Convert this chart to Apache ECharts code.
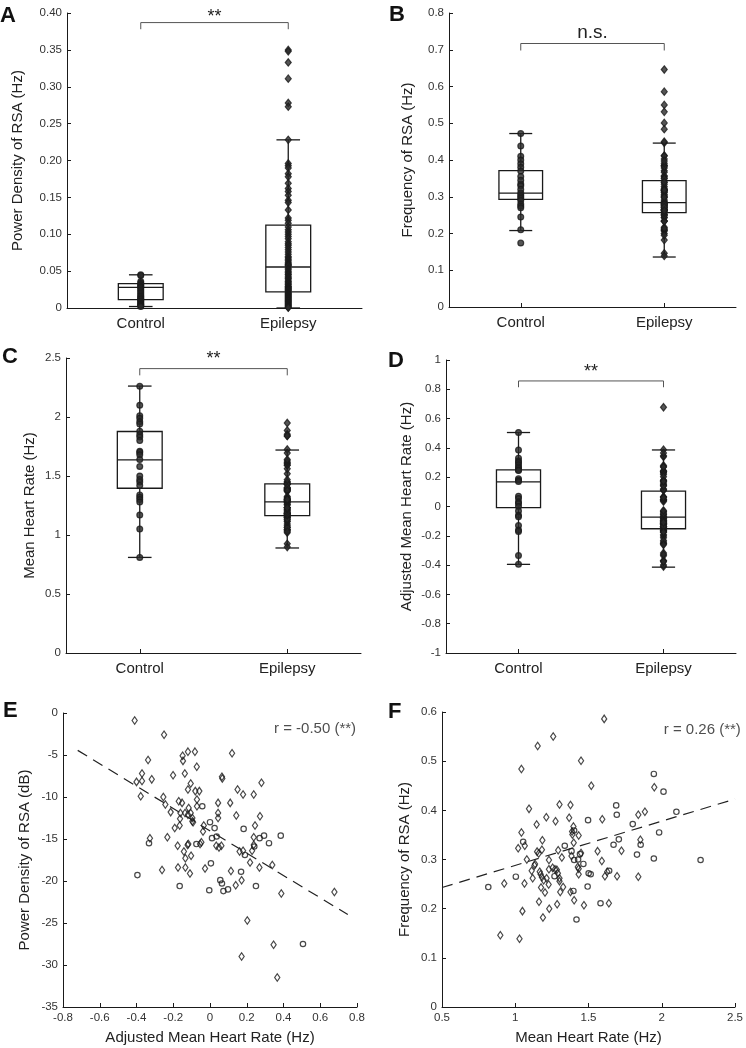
<!DOCTYPE html>
<html><head><meta charset="utf-8">
<script src="https://cdn.jsdelivr.net/npm/echarts@6/dist/echarts.min.js"></script>
<style>html,body{margin:0;padding:0;background:#fff}#c{width:746px;height:1048px}</style>
</head><body><div id="c"></div>
<script>
const categories = ['Control', 'Epilepsy'];

// ---- Panel A: power density of RSA (Hz)
const aControl = [0.045,0.044,0.036,0.034,0.032,0.031,0.029,0.028,0.026,0.024,0.022,0.020,0.018,0.016,0.015,0.013,0.012,0.011,0.009,0.008,0.006,0.005,0.004,0.003,0.002];
const aEpilepsy = [0.350,0.348,0.333,0.311,0.278,0.273,0.228,0.196,0.193,0.190,0.182,0.178,0.169,0.162,0.158,0.153,0.146,0.143,0.133,0.122,0.119,0.115,
  0.110,0.106,0.103,0.100,0.097,0.094,0.090,0.087,0.085,0.082,0.079,0.076,0.073,0.070,0.068,0.066,0.064,0.062,0.060,0.059,0.058,0.057,
  0.054,0.052,0.050,0.048,0.046,0.045,0.043,0.041,0.040,0.038,0.036,0.035,0.033,0.032,0.030,0.029,0.028,0.027,0.026,0.025,0.024,0.023,
  0.021,0.020,0.019,0.018,0.017,0.016,0.015,0.014,0.013,0.012,0.011,0.010,0.009,0.008,0.007,0.006,0.005,0.004,0.003,0.002,0.001,0.0005];
// box stats: [lower whisker, Q1, median, Q3, upper whisker]
const aBox = [[0.002,0.0113,0.028,0.033,0.045],[0.0,0.022,0.0556,0.1125,0.228]];
const aSig = [0.387, 0.378, 0.395]; // bracket level, tick end, label level
const aSigText = '**';

// ---- Panel B: frequency of RSA (Hz)
const bControl = [0.472,0.438,0.41,0.40,0.39,0.38,0.37,0.355,0.345,0.335,0.33,0.32,0.31,0.305,0.30,0.295,0.29,0.28,0.275,0.27,0.245,0.21,0.174];
const bEpilepsyExtra = [0.646];
const bBox = [[0.208,0.293,0.310,0.371,0.472],[0.136,0.257,0.284,0.344,0.446]];
const bSig = [0.717, 0.698, 0.745];
const bSigText = 'n.s.';

// ---- Panel C: mean heart rate (Hz)
const cControl = [2.26,2.10,2.01,1.99,1.96,1.94,1.88,1.85,1.83,1.80,1.71,1.70,1.68,1.64,1.58,1.50,1.47,1.45,1.42,1.34,1.32,1.30,1.28,1.17,1.05,0.81];
const cBox = [[0.81,1.396,1.637,1.877,2.262],[0.89,1.164,1.28,1.433,1.72]];
const cSig = [2.41, 2.353, 2.49];
const cSigText = '**';

// ---- Panel D: adjusted mean heart rate (Hz)
const dControl = [0.505,0.385,0.33,0.31,0.30,0.285,0.27,0.26,0.25,0.245,0.19,0.18,0.17,0.07,0.055,0.03,0.02,0.0,-0.03,-0.06,-0.07,-0.13,-0.16,-0.17,-0.335,-0.395];
const dBox = [[-0.395,-0.007,0.168,0.25,0.505],[-0.414,-0.152,-0.073,0.105,0.386]];
const dSig = [0.857, 0.814, 0.915];
const dSigText = '**';

// ---- Panel E: adjusted mean HR (x) vs power density dB (y)
const eControl = [[-0.042,-11.1],[0.183,-13.8],[0.0,-13.0],[0.025,-13.7],[-0.332,-15.5],[0.011,-14.9],[0.036,-14.7],[-0.074,-15.6],[0.19,-16.9],[0.241,-15.9],[0.27,-14.9],[0.294,-14.6],[0.321,-15.5],[0.385,-14.6],[0.005,-17.9],[0.169,-18.9],[-0.395,-19.3],[-0.165,-20.6],[-0.004,-21.1],[0.056,-19.9],[0.065,-20.3],[0.073,-21.2],[0.098,-21.0],[0.25,-20.6],[0.506,-27.5]];
const eEpilepsy = [[-0.41,-0.9],[-0.25,-2.6],[-0.337,-5.6],[-0.149,-5.1],[-0.12,-4.6],[-0.082,-4.6],[-0.147,-5.7],[0.12,-4.8],
  [-0.37,-7.2],[-0.40,-8.2],[-0.37,-8.1],[-0.317,-7.9],[-0.377,-9.9],[-0.201,-7.4],[-0.137,-7.2],[-0.072,-6.4],
  [-0.105,-8.4],[0.065,-7.6],[0.067,-7.8],[-0.12,-9.1],[-0.08,-9.3],[-0.058,-9.3],[0.15,-9.1],[0.18,-9.7],
  [0.238,-9.7],[0.28,-8.3],[-0.254,-10.0],[-0.17,-10.5],[-0.071,-10.3],[-0.243,-10.9],[-0.152,-10.7],[-0.116,-11.3],
  [-0.071,-11.1],[0.044,-10.7],[0.11,-10.7],[-0.214,-11.8],[-0.161,-11.9],[-0.136,-11.9],[-0.12,-12.1],[-0.105,-11.9],
  [-0.096,-12.5],[-0.096,-12.9],[-0.092,-13.0],[-0.163,-12.6],[0.044,-11.9],[0.044,-12.5],[0.143,-12.2],[0.272,-12.3],
  [0.245,-13.4],[-0.034,-13.4],[-0.038,-14.1],[-0.192,-13.7],[-0.165,-13.4],[-0.232,-14.8],[-0.327,-14.9],
  [-0.176,-15.8],[-0.122,-15.7],[-0.118,-15.6],[-0.142,-16.5],[-0.054,-15.6],[-0.047,-15.4],[0.034,-15.8],[0.049,-16.0],
  [0.062,-15.8],[0.161,-16.5],[0.18,-16.4],[0.229,-16.4],[0.238,-15.7],[0.238,-14.8],[-0.103,-17.0],[-0.134,-17.3],
  [0.218,-17.8],[0.269,-18.4],[0.339,-18.1],[-0.027,-18.5],[-0.134,-18.4],[-0.174,-18.4],[-0.261,-18.7],[-0.109,-19.1],
  [0.114,-18.8],[0.14,-20.5],[0.172,-19.9],[0.388,-21.5],[0.677,-21.3],[0.203,-24.7],[0.172,-29.0],[0.346,-27.6],[0.366,-31.5]];
const eFit = [[-0.72,-4.45],[0.75,-24.0]];
const eText = 'r = -0.50 (**)';
const eTextAt = [0.795, -1.9];

// ---- Panel F: mean HR (x) vs frequency of RSA (y)
const fControl = [[1.946,0.474],[2.012,0.438],[1.497,0.380],[1.689,0.410],[1.693,0.391],[1.802,0.372],[2.100,0.397],[1.982,0.355],[2.265,0.299],[1.054,0.336],[1.338,0.328],[1.402,0.359],[1.384,0.317],[1.402,0.299],[1.429,0.300],[1.442,0.311],[1.465,0.291],[1.501,0.272],[1.515,0.270],[1.494,0.245],[1.641,0.277],[1.671,0.330],[1.707,0.341],[1.831,0.310],[1.856,0.330],[1.946,0.302],[1.582,0.211],[1.418,0.178],[1.397,0.236],[1.004,0.265],[0.816,0.244],[1.268,0.266]];
const fEpilepsy = [[1.607,0.586],[1.259,0.550],[1.153,0.531],[1.042,0.484],[1.449,0.501],[1.949,0.447],[1.519,0.450],[1.094,0.403],[1.302,0.412],[1.377,0.411],[1.212,0.386],[1.275,0.378],[1.146,0.371],[1.368,0.385],[1.397,0.367],[1.594,0.382],[1.840,0.391],[1.885,0.397],[1.042,0.355],[1.020,0.323],[1.065,0.328],[1.079,0.300],[1.149,0.316],[1.160,0.312],[1.182,0.320],[1.185,0.339],[1.293,0.319],[1.318,0.304],[1.388,0.357],[1.390,0.351],[1.399,0.334],[1.384,0.307],[1.433,0.349],[1.449,0.313],[1.427,0.285],[1.433,0.281],[1.433,0.270],[1.562,0.317],[1.591,0.297],[1.612,0.266],[1.628,0.275],[1.725,0.318],[1.695,0.266],[1.854,0.340],[1.840,0.265],[1.639,0.211],[1.469,0.207],[1.402,0.217],[1.377,0.234],[1.327,0.244],[1.307,0.234],[1.286,0.209],[1.232,0.200],[1.189,0.182],[1.162,0.214],[1.049,0.195],[1.063,0.251],[0.925,0.251],[0.898,0.146],[1.029,0.139],[1.112,0.277],[1.119,0.262],[1.131,0.288],[1.135,0.291],[1.167,0.275],[1.173,0.270],[1.182,0.264],[1.176,0.243],[1.203,0.233],[1.194,0.258],[1.214,0.262],[1.228,0.249],[1.230,0.280],[1.255,0.283],[1.271,0.280],[1.284,0.279],[1.291,0.272],[1.302,0.256],[1.302,0.262],[1.230,0.299]];
const fFit = [[0.5,0.243],[2.5,0.423]];
const fText = 'r = 0.26 (**)';
const fTextAt = [2.54, 0.563];

// epilepsy columns of B, C, D are the same subjects as the scatter panels
const bEpilepsy = fEpilepsy.map(p => p[1]).concat(bEpilepsyExtra);
const cEpilepsy = fEpilepsy.map(p => p[0]);
const dEpilepsy = eEpilepsy.map(p => p[0]);

// ------------------------------------------------------------------
const FONT = '"Liberation Sans", Arial, Helvetica, sans-serif';
const INK = '#1a1a1a';
const chart = echarts.init(document.getElementById('c'), null, {renderer: 'canvas'});

const grids = [
  {left: 67, top: 13, width: 295, height: 295},
  {left: 449, top: 13, width: 287, height: 294},
  {left: 66, top: 358, width: 295, height: 295},
  {left: 446, top: 360, width: 290, height: 293},
  {left: 63, top: 713, width: 294, height: 294},
  {left: 442, top: 712, width: 295, height: 295}
];

const axisLine = {show: true, onZero: false, lineStyle: {color: INK, width: 1}};
const axisTick = {show: true, inside: true, length: 4, lineStyle: {color: INK, width: 1}};
const tickLabel = {color: '#333', fontSize: 11.5, fontFamily: FONT, margin: 5};
const nameStyle = {color: '#222', fontSize: 15, fontFamily: FONT};

function catX(gi) {
  return {type: 'category', gridIndex: gi, data: categories, boundaryGap: true,
    axisLine, axisTick: Object.assign({}, axisTick, {alignWithLabel: true}),
    axisLabel: {color: '#222', fontSize: 15, fontFamily: FONT, margin: 8},
    splitLine: {show: false}};
}
function valAxis(gi, min, max, interval, name, nameGap, fmt) {
  return {type: 'value', gridIndex: gi, min, max, interval,
    name, nameLocation: 'middle', nameGap, nameTextStyle: nameStyle,
    axisLine, axisTick,
    axisLabel: Object.assign({}, tickLabel, fmt ? {formatter: fmt} : {}),
    splitLine: {show: false}};
}
const f2 = v => (Math.abs(v) < 1e-9 ? '0' : v.toFixed(2));
const f1 = v => (Math.abs(v) < 1e-9 ? '0' : v.toFixed(1));

function boxSeries(gi, boxes) {
  return {type: 'custom', xAxisIndex: gi, yAxisIndex: gi, silent: true, z: 2,
    data: boxes.map((b, i) => [i].concat(b)),
    renderItem: (params, api) => {
      const i = api.value(0);
      const band = api.size([1, 0])[0];
      const bw = band * 0.152, cw = band * 0.08;
      const p = k => api.coord([i, api.value(k)]);
      const pMin = p(1), pQ1 = p(2), pMed = p(3), pQ3 = p(4), pMax = p(5);
      const cx = pMed[0];
      const st = {stroke: INK, lineWidth: 1.3, fill: null};
      const ln = (x1, y1, x2, y2) => ({type: 'line', shape: {x1, y1, x2, y2}, style: st});
      return {type: 'group', children: [
        ln(cx, pQ3[1], cx, pMax[1]),
        ln(cx, pQ1[1], cx, pMin[1]),
        ln(cx - cw, pMax[1], cx + cw, pMax[1]),
        ln(cx - cw, pMin[1], cx + cw, pMin[1]),
        {type: 'rect', shape: {x: cx - bw, y: pQ3[1], width: 2 * bw, height: pQ1[1] - pQ3[1]}, style: {stroke: INK, lineWidth: 1.3, fill: 'rgba(0,0,0,0)'}},
        ln(cx - bw, pMed[1], cx + bw, pMed[1])
      ]};
    }};
}
function sigSeries(gi, sig, text, fs) {
  return {type: 'custom', xAxisIndex: gi, yAxisIndex: gi, silent: true, z: 5,
    data: [[0, sig[0], sig[1], sig[2]]],
    renderItem: (params, api) => {
      const p0 = api.coord([0, api.value(1)]), p1 = api.coord([1, api.value(1)]);
      const t = api.coord([0, api.value(2)]), l = api.coord([0, api.value(3)]);
      return {type: 'group', children: [
        {type: 'polyline', shape: {points: [[p0[0], t[1]], [p0[0], p0[1]], [p1[0], p1[1]], [p1[0], t[1]]]},
          style: {stroke: '#555', lineWidth: 1, fill: null}},
        {type: 'text', x: (p0[0] + p1[0]) / 2, y: l[1],
          style: {text, fill: '#222', font: fs + 'px ' + FONT, align: 'center', verticalAlign: 'middle'}}
      ]};
    }};
}
function columnSeries(gi, idx, vals, symbol) {
  return {type: 'scatter', xAxisIndex: gi, yAxisIndex: gi, silent: true, z: 3,
    symbol, symbolSize: symbol === 'diamond' ? [6, 7.5] : 5.8,
    itemStyle: {color: '#2a2a2a', borderColor: INK, borderWidth: 1.2},
    data: vals.map(v => [idx, v])};
}
function boxPanel(gi, ctrl, epi, boxes, sig, sigText, sigFs) {
  return [
    boxSeries(gi, boxes),
    columnSeries(gi, 0, ctrl, 'circle'),
    columnSeries(gi, 1, epi, 'diamond'),
    sigSeries(gi, sig, sigText, sigFs)
  ];
}
function scatterSet(gi, pts, symbol) {
  return {type: 'scatter', xAxisIndex: gi, yAxisIndex: gi, silent: true, z: 3,
    symbol, symbolSize: symbol === 'diamond' ? [5.2, 7.5] : 5.4,
    itemStyle: {color: 'rgba(255,255,255,0)', borderColor: INK, borderWidth: 1.2},
    data: pts};
}
function fitLine(gi, pts) {
  return {type: 'line', xAxisIndex: gi, yAxisIndex: gi, silent: true, z: 4, symbol: 'none',
    lineStyle: {color: '#222', width: 1.2, type: [11, 7]}, data: pts};
}
function rLabel(gi, at, text) {
  return {type: 'scatter', xAxisIndex: gi, yAxisIndex: gi, silent: true, clip: false, z: 6,
    symbolSize: 0, data: [at],
    label: {show: true, position: 'left', distance: 0, formatter: text,
      color: '#222', fontSize: 15, fontFamily: FONT}};
}

const letters = [['A', 0, 5], ['B', 389, 4], ['C', 2, 346], ['D', 388, 350], ['E', 3, 700], ['F', 388, 701]];

const option = {
  animation: false,
  backgroundColor: '#fff',
  grid: grids,
  xAxis: [
    catX(0), catX(1), catX(2), catX(3),
    valAxis(4, -0.8, 0.8, 0.2, 'Adjusted Mean Heart Rate (Hz)', 23, null),
    valAxis(5, 0.5, 2.5, 0.5, 'Mean Heart Rate (Hz)', 23, null)
  ],
  yAxis: [
    valAxis(0, 0, 0.4, 0.05, 'Power Density of RSA (Hz)', 42, f2),
    valAxis(1, 0, 0.8, 0.1, 'Frequency of RSA (Hz)', 34, f1),
    valAxis(2, 0, 2.5, 0.5, 'Mean Heart Rate (Hz)', 29, null),
    valAxis(3, -1, 1, 0.2, 'Adjusted Mean Heart Rate (Hz)', 32, null),
    valAxis(4, -35, 0, 5, 'Power Density of RSA (dB)', 31, null),
    valAxis(5, 0, 0.6, 0.1, 'Frequency of RSA (Hz)', 30, null)
  ],
  series: [].concat(
    boxPanel(0, aControl, aEpilepsy, aBox, aSig, aSigText, 18),
    boxPanel(1, bControl, bEpilepsy, bBox, bSig, bSigText, 19),
    boxPanel(2, cControl, cEpilepsy, cBox, cSig, cSigText, 18),
    boxPanel(3, dControl, dEpilepsy, dBox, dSig, dSigText, 18),
    [scatterSet(4, eEpilepsy, 'diamond'), scatterSet(4, eControl, 'circle'), fitLine(4, eFit), rLabel(4, eTextAt, eText)],
    [scatterSet(5, fEpilepsy, 'diamond'), scatterSet(5, fControl, 'circle'), fitLine(5, fFit), rLabel(5, fTextAt, fText)]
  ),
  graphic: letters.map(([t, x, y]) => ({type: 'text', left: x, top: y,
    style: {text: t, fill: '#111', font: 'bold 22px ' + FONT}}))
};
chart.setOption(option);
</script>
</body></html>
